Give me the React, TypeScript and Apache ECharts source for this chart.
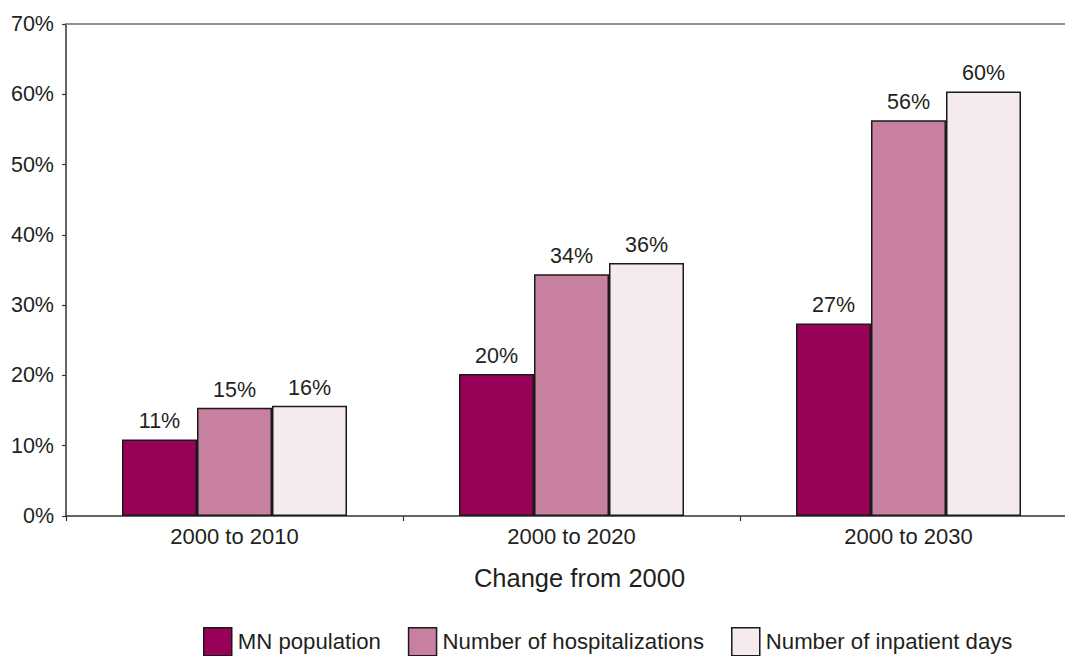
import React, { useEffect, useRef } from "react";
import * as echarts from "echarts";

const categories = ["2000 to 2010", "2000 to 2020", "2000 to 2030"];
const seriesNames = ["MN population", "Number of hospitalizations", "Number of inpatient days"];
const mnPopulation = [10.9, 20.2, 27.4];
const hospitalizations = [15.4, 34.4, 56.3];
const inpatientDays = [15.7, 36.0, 60.4];
const seriesColors = ["#990057", "#C7809F", "#F5EAEE"];
const axisName = "Change from 2000";

const FONT = "'Liberation Sans', Arial, Helvetica, sans-serif";
const TEXT = "#231f20";

export default function App() {
  const ref = useRef<HTMLDivElement>(null);
  useEffect(() => {
    if (!ref.current) return;
    const chart = echarts.init(ref.current, undefined, { renderer: "svg" });
    const values = [mnPopulation, hospitalizations, inpatientDays];
    chart.setOption({
      animation: false,
      backgroundColor: "#ffffff",
      textStyle: { fontFamily: FONT, color: TEXT },
      grid: { left: 66, top: 24, width: 1011, height: 492, containLabel: false },
      legend: {
        left: 203,
        top: 627,
        itemWidth: 28,
        itemHeight: 28,
        itemGap: 27,
        padding: 0,
        icon: "rect",
        itemStyle: { borderColor: "#1a1a1a", borderWidth: 1.5 },
        textStyle: { fontFamily: FONT, fontSize: 22.2, color: TEXT, padding: [0, 0, 0, 1] },
        data: seriesNames,
      },
      xAxis: [
        {
          type: "category",
          data: categories,
          position: "bottom",
          name: axisName,
          nameLocation: "middle",
          nameGap: 49,
          nameTextStyle: { fontFamily: FONT, fontSize: 25.5, color: TEXT, padding: [0, 0, 0, 16] },
          axisLine: { show: true, lineStyle: { color: "#333", width: 1.5 } },
          axisTick: { show: true, length: 5, lineStyle: { color: "#333", width: 1.2 } },
          axisLabel: { fontFamily: FONT, fontSize: 22, color: TEXT, margin: 9 },
        },
        {
          type: "category",
          data: categories,
          position: "top",
          axisLine: { show: true, lineStyle: { color: "#8c9196", width: 1.8 } },
          axisTick: { show: false },
          axisLabel: { show: false },
        },
      ],
      yAxis: {
        type: "value",
        min: 0,
        max: 70,
        interval: 10,
        axisLine: { show: true, lineStyle: { color: "#333", width: 1.5 } },
        axisTick: { show: true, length: 4, lineStyle: { color: "#333", width: 1.2 } },
        splitLine: { show: false },
        axisLabel: {
          fontFamily: FONT,
          fontSize: 21.5,
          color: TEXT,
          margin: 12,
          formatter: "{value}%",
        },
      },
      series: seriesNames.map((name, i) => ({
        name,
        type: "bar",
        data: values[i],
        barWidth: 75,
        barGap: "0%",
        itemStyle: { color: seriesColors[i], borderColor: "#1a1a1a", borderWidth: 1.5 },
        label: {
          show: true,
          position: "top",
          distance: 7,
          fontFamily: FONT,
          fontSize: 21.5,
          color: TEXT,
          formatter: (p: any) => Math.round(p.value) + "%",
        },
      })),
    });
    return () => chart.dispose();
  }, []);
  return (
    <div
      style={{
        position: "fixed",
        left: 0,
        top: 0,
        width: 1065,
        height: 656,
        overflow: "hidden",
        background: "#fff",
      }}
    >
      <div ref={ref} style={{ width: 1090, height: 656 }} />
    </div>
  );
}
